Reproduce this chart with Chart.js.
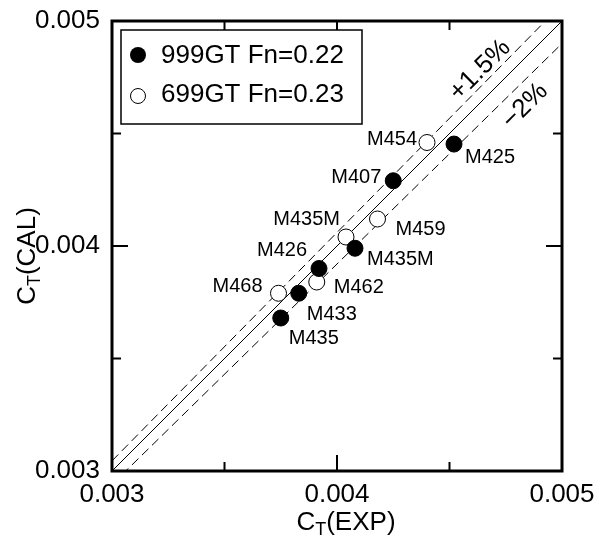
<!DOCTYPE html>
<html>
<head>
<meta charset="utf-8">
<script src="https://cdn.jsdelivr.net/npm/chart.js@4.4.0/dist/chart.umd.min.js"></script>
<style>
  html, body { margin: 0; padding: 0; background: #fff; }
  #wrap { width: 603px; height: 536px; }
</style>
</head>
<body>
<div id="wrap"><canvas id="myChart"></canvas></div>
<script>
// 999GT Fn=0.22 (filled circles)
var gt999Names = ['M425', 'M407', 'M435M', 'M426', 'M433', 'M435'];
var gt999Exp = [0.00452, 0.00425, 0.00408, 0.00392, 0.00383, 0.00375];
var gt999Cal = [0.004453, 0.00429, 0.00399, 0.0039, 0.00379, 0.00368];

// 699GT Fn=0.23 (open circles)
var gt699Names = ['M454', 'M459', 'M435M', 'M462', 'M468'];
var gt699Exp = [0.0044, 0.00418, 0.00404, 0.00391, 0.00374];
var gt699Cal = [0.00446, 0.00412, 0.00404, 0.00384, 0.00379];

var axisMin = 0.003;
var axisMax = 0.005;
var majorTicks = [0.003, 0.004, 0.005];
var minorTicks = [0.0035, 0.0045];

// reference lines: CAL = ratio * EXP
var lineRatios = [1, 1.015, 0.98];
var lineTexts = ['+1.5%', '\u22122%'];

// label placement (pixels from point centre), kept apart from the data
var gt999LabelPos = [[11, 13, 'left'], [-12, -3, 'right'], [12, 11, 'left'],
                     [-12, -18, 'right'], [8, 21, 'left'], [8, 20, 'left']];
var gt699LabelPos = [[-10, -3, 'right'], [18, 10, 'left'], [-6, -18, 'right'],
                     [17, 5, 'left'], [-16, -7, 'right']];
var lineTextAt = [[0.004636, 0.004782], [0.004836, 0.004622]];

var FONT = '"Liberation Sans", Arial, Helvetica, sans-serif';

function pts(xs, ys) {
  return xs.map(function (x, i) { return {x: x, y: ys[i]}; });
}
function refLine(r) {
  return [{x: axisMin, y: axisMin * r}, {x: axisMax, y: axisMax * r}];
}

var decor = {
  id: 'decor',
  afterDraw: function (chart) {
    var ctx = chart.ctx;
    var a = chart.chartArea;
    var xs = chart.scales.x, ys = chart.scales.y;
    ctx.save();
    ctx.strokeStyle = '#000';
    ctx.fillStyle = '#000';

    // inward ticks on all four sides
    ctx.lineWidth = 2;
    function ticks(list, len) {
      list.forEach(function (v) {
        var px = xs.getPixelForValue(v), py = ys.getPixelForValue(v);
        ctx.beginPath();
        ctx.moveTo(px, a.bottom); ctx.lineTo(px, a.bottom - len);
        ctx.moveTo(px, a.top); ctx.lineTo(px, a.top + len);
        ctx.moveTo(a.left, py); ctx.lineTo(a.left + len, py);
        ctx.moveTo(a.right, py); ctx.lineTo(a.right - len, py);
        ctx.stroke();
      });
    }
    ticks(majorTicks, 16);
    ticks(minorTicks, 9);

    // frame
    ctx.lineWidth = 3;
    ctx.strokeRect(a.left, a.top, a.right - a.left, a.bottom - a.top);

    // point labels
    ctx.font = '20px ' + FONT;
    ctx.textBaseline = 'middle';
    function labels(dsIndex, names, pos) {
      var meta = chart.getDatasetMeta(dsIndex);
      names.forEach(function (n, i) {
        var el = meta.data[i];
        ctx.textAlign = pos[i][2];
        ctx.fillText(n, el.x + pos[i][0], el.y + pos[i][1]);
      });
    }
    labels(0, gt999Names, gt999LabelPos);
    labels(1, gt699Names, gt699LabelPos);

    // percentage labels along the dashed lines
    ctx.font = '26px ' + FONT;
    ctx.textAlign = 'center';
    lineTexts.forEach(function (t, i) {
      ctx.save();
      ctx.translate(xs.getPixelForValue(lineTextAt[i][0]), ys.getPixelForValue(lineTextAt[i][1]));
      ctx.rotate(-Math.PI / 4);
      ctx.fillText(t, 0, 0);
      ctx.restore();
    });

    // legend box
    ctx.lineWidth = 1.5;
    ctx.fillStyle = '#fff';
    ctx.fillRect(121, 30, 241, 94);
    ctx.strokeRect(121, 30, 241, 94);
    ctx.fillStyle = '#000';
    ctx.beginPath();
    ctx.arc(138, 55, 8, 0, Math.PI * 2);
    ctx.fill();
    ctx.lineWidth = 1;
    ctx.beginPath();
    ctx.arc(138, 96, 7.5, 0, Math.PI * 2);
    ctx.stroke();
    ctx.textAlign = 'left';
    ctx.font = '26px ' + FONT;
    ctx.fillText(chart.data.datasets[0].label, 161, 56);
    ctx.fillText(chart.data.datasets[1].label, 161, 95);

    // axis titles with subscript T
    function title(x, y, rot, pre, sub, post) {
      ctx.save();
      ctx.translate(x, y);
      ctx.rotate(rot);
      ctx.textBaseline = 'alphabetic';
      ctx.textAlign = 'left';
      ctx.font = '26px ' + FONT;
      var w1 = ctx.measureText(pre).width, w3 = ctx.measureText(post).width;
      ctx.font = '18px ' + FONT;
      var w2 = ctx.measureText(sub).width;
      var x0 = -(w1 + w2 + w3) / 2;
      ctx.font = '26px ' + FONT;
      ctx.fillText(pre, x0, 0);
      ctx.font = '18px ' + FONT;
      ctx.fillText(sub, x0 + w1, 5);
      ctx.font = '26px ' + FONT;
      ctx.fillText(post, x0 + w1 + w2, 0);
      ctx.restore();
    }
    title(346, 530, 0, 'C', 'T', '(EXP)');
    title(35, 256, -Math.PI / 2, 'C', 'T', '(CAL)');
    ctx.restore();
  }
};

var ctx = document.getElementById('myChart').getContext('2d');
var myChart = new Chart(ctx, {
  type: 'scatter',
  data: {
    datasets: [{
        label: '999GT Fn=0.22',
        data: pts(gt999Exp, gt999Cal),
        pointRadius: 8,
        backgroundColor: '#000',
        borderColor: '#000',
        borderWidth: 1
      }, {
        label: '699GT Fn=0.23',
        data: pts(gt699Exp, gt699Cal),
        pointRadius: 8,
        backgroundColor: '#fff',
        borderColor: '#000',
        borderWidth: 1
      }, {
        label: 'equal',
        data: refLine(lineRatios[0]),
        showLine: true,
        pointRadius: 0,
        borderColor: '#000',
        borderWidth: 1
      }, {
        label: '+1.5%',
        data: refLine(lineRatios[1]),
        showLine: true,
        pointRadius: 0,
        borderColor: '#000',
        borderWidth: 1,
        borderDash: [9, 5]
      }, {
        label: '-2%',
        data: refLine(lineRatios[2]),
        showLine: true,
        pointRadius: 0,
        borderColor: '#000',
        borderWidth: 1,
        borderDash: [9, 5]
      }
    ]
  },
  options: {
    responsive: true,
    maintainAspectRatio: false,
    animation: false,
    layout: { padding: { top: 21, right: 41, left: 0, bottom: 0 } },
    plugins: {
      legend: { display: false },
      tooltip: { enabled: false }
    },
    scales: {
      x: {
        type: 'linear',
        min: axisMin,
        max: axisMax,
        afterBuildTicks: function (s) { s.ticks = majorTicks.map(function (v) { return {value: v}; }); },
        afterFit: function (s) { s.height = 65; },
        grid: { display: false },
        border: { display: false },
        ticks: {
          color: '#000',
          padding: 0,
          maxRotation: 0,
          autoSkip: false,
          font: { size: 26, family: FONT },
          callback: function (v) { return v.toFixed(3); }
        }
      },
      y: {
        type: 'linear',
        min: axisMin,
        max: axisMax,
        afterBuildTicks: function (s) { s.ticks = majorTicks.map(function (v) { return {value: v}; }); },
        afterFit: function (s) { s.width = 112; },
        grid: { display: false },
        border: { display: false },
        ticks: {
          color: '#000',
          padding: 4,
          autoSkip: false,
          font: { size: 26, family: FONT },
          callback: function (v) { return v.toFixed(3); }
        }
      }
    }
  },
  plugins: [decor]
});
</script>
</body>
</html>
